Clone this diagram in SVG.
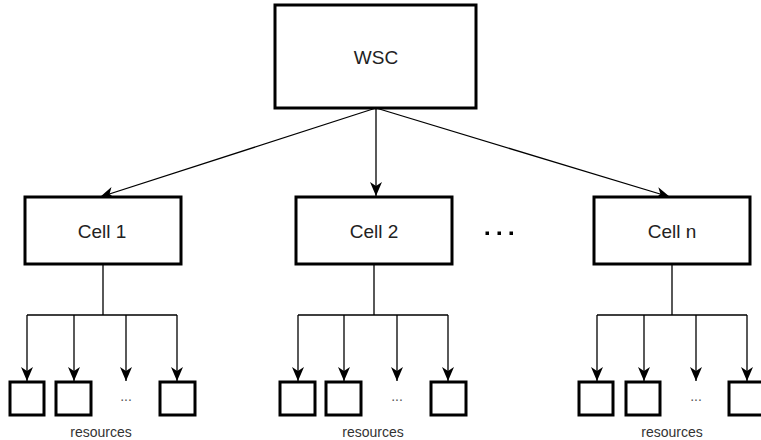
<svg xmlns="http://www.w3.org/2000/svg" width="761" height="440" viewBox="0 0 761 440">
<style>
.box{fill:#fff;stroke:#000;stroke-width:3}
.conn{fill:none;stroke:#000;stroke-width:1.3}
.lbl{font-family:"Liberation Sans",Arial,sans-serif;font-size:19px;fill:#222;text-anchor:middle;dominant-baseline:central}
.res{font-family:"Liberation Sans",Arial,sans-serif;font-size:14px;fill:#333;text-anchor:middle}
.ell{font-family:"Liberation Sans",Arial,sans-serif;font-size:14px;fill:#555;text-anchor:middle}
</style>
<defs>
<marker id="arr" viewBox="0 0 14 14" refX="14" refY="7" markerWidth="14" markerHeight="14" markerUnits="userSpaceOnUse" orient="auto">
<path d="M0,1 L14,7 L0,13 L4,7 z" fill="#000"/>
</marker>
</defs>
<rect width="761" height="440" fill="#fff"/>
<g id="connectors">
<line class="conn" x1="376" y1="108" x2="100" y2="197" marker-end="url(#arr)"/>
<line class="conn" x1="376" y1="108" x2="376" y2="196" marker-end="url(#arr)"/>
<line class="conn" x1="376" y1="108" x2="670" y2="197" marker-end="url(#arr)"/>
<path class="conn" d="M103,264 L103,315 M27,315 L177,315"/>
<line class="conn" x1="27" y1="315" x2="27" y2="381" marker-end="url(#arr)"/>
<line class="conn" x1="74" y1="315" x2="74" y2="381" marker-end="url(#arr)"/>
<line class="conn" x1="126" y1="315" x2="126" y2="381" marker-end="url(#arr)"/>
<line class="conn" x1="177" y1="315" x2="177" y2="381" marker-end="url(#arr)"/>
<path class="conn" d="M374,264 L374,315 M298,315 L448,315"/>
<line class="conn" x1="298" y1="315" x2="298" y2="381" marker-end="url(#arr)"/>
<line class="conn" x1="344" y1="315" x2="344" y2="381" marker-end="url(#arr)"/>
<line class="conn" x1="397" y1="315" x2="397" y2="381" marker-end="url(#arr)"/>
<line class="conn" x1="448" y1="315" x2="448" y2="381" marker-end="url(#arr)"/>
<path class="conn" d="M672,264 L672,315 M597,315 L747,315"/>
<line class="conn" x1="597" y1="315" x2="597" y2="381" marker-end="url(#arr)"/>
<line class="conn" x1="644" y1="315" x2="644" y2="381" marker-end="url(#arr)"/>
<line class="conn" x1="696" y1="315" x2="696" y2="381" marker-end="url(#arr)"/>
<line class="conn" x1="747" y1="315" x2="747" y2="381" marker-end="url(#arr)"/>
</g>
<g id="wsc"><rect class="box" x="275" y="5" width="201" height="103"/><text class="lbl" x="376" y="57">WSC</text></g>
<g id="cell1"><rect class="box" x="25" y="197" width="156" height="67"/><text class="lbl" x="102" y="231">Cell 1</text></g>
<g id="cell2"><rect class="box" x="296" y="197" width="156" height="67"/><text class="lbl" x="374" y="231">Cell 2</text></g>
<g id="celln"><rect class="box" x="594" y="197" width="156" height="67"/><text class="lbl" x="672" y="231">Cell n</text></g>
<g id="dots" fill="#000"><rect x="485.5" y="231.5" width="3.5" height="3.5"/><rect x="497.5" y="231.5" width="3.5" height="3.5"/><rect x="509.5" y="231.5" width="3.5" height="3.5"/></g>
<g id="res1">
<rect class="box" x="10" y="382" width="34" height="33"/>
<rect class="box" x="56" y="382" width="35" height="33"/>
<rect class="box" x="160" y="382" width="35" height="33"/>
<text class="ell" x="126" y="401">...</text>
<text class="res" x="101" y="437">resources</text>
</g>
<g id="res2">
<rect class="box" x="280" y="382" width="35" height="33"/>
<rect class="box" x="326" y="382" width="35" height="33"/>
<rect class="box" x="431" y="382" width="35" height="33"/>
<text class="ell" x="397" y="401">...</text>
<text class="res" x="373" y="437">resources</text>
</g>
<g id="resn">
<rect class="box" x="579" y="382" width="34" height="33"/>
<rect class="box" x="626" y="382" width="34" height="33"/>
<rect class="box" x="729" y="382" width="36" height="33"/>
<text class="ell" x="696" y="401">...</text>
<text class="res" x="672" y="437">resources</text>
</g>
</svg>
